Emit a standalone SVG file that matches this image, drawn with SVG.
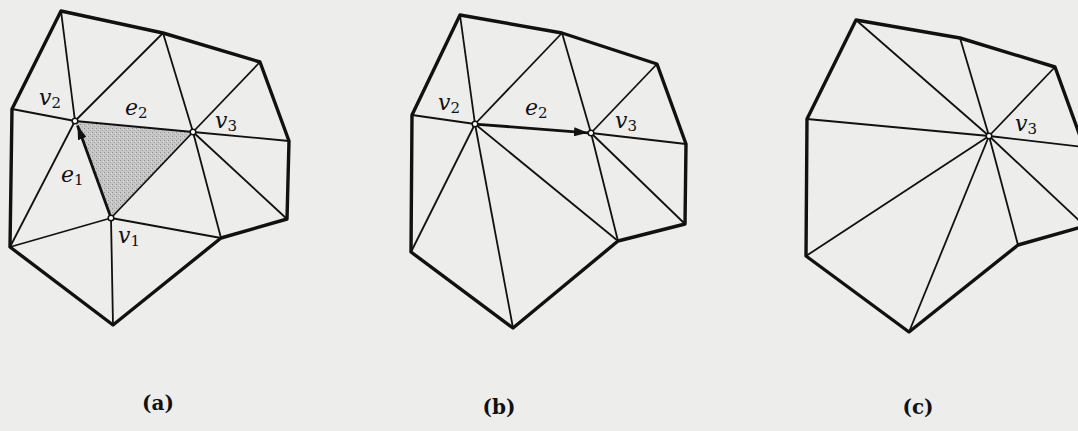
<svg xmlns="http://www.w3.org/2000/svg" width="1078" height="431" viewBox="0 0 1078 431">
<style>
.bg{fill:#ededeb}
.outer{fill:none;stroke:#111;stroke-width:3.4;stroke-linejoin:round}
.inner{stroke:#111;stroke-width:1.8;fill:none}
.arr{stroke:#111;stroke-width:2.8;fill:none}
.vx{fill:#fff;stroke:#111;stroke-width:1.5}
.lbl{font-family:"DejaVu Serif",serif;font-style:italic;font-size:22px;fill:#111}
.sub{font-style:normal;font-size:15px}
.cap{font-family:"DejaVu Serif",serif;font-weight:bold;font-size:20px;fill:#111}
</style>
<defs>
<pattern id="stip" width="4" height="4" patternUnits="userSpaceOnUse">
<rect width="4" height="4" fill="#c6c6c6"/>
<rect x="0" y="0" width="1" height="1" fill="#8f8f8f"/>
<rect x="2" y="2" width="1" height="1" fill="#a0a0a0"/>
<rect x="3" y="1" width="1" height="1" fill="#d8d8d8"/>
</pattern>
<marker id="ah" viewBox="0 0 14 9" refX="14" refY="4.5" markerWidth="14" markerHeight="9" markerUnits="userSpaceOnUse" orient="auto">
<path d="M0,0 L14,4.5 L0,9 Z" fill="#111"/>
</marker>
</defs>
<rect class="bg" width="1078" height="431"/>

<!-- Panel (a) -->
<g id="panel-a">
<polygon id="face-a" points="75,121 193,132 111,218" fill="url(#stip)"/>
<g id="connectors-a">
<line class="inner" x1="61" y1="11" x2="75" y2="121"/>
<line class="inner" x1="12" y1="109" x2="75" y2="121"/>
<line class="inner" x1="163" y1="33" x2="75" y2="121"/>
<line class="inner" x1="75" y1="121" x2="193" y2="132"/>
<line class="inner" x1="10" y1="247" x2="75" y2="121"/>
<line class="inner" x1="163" y1="33" x2="193" y2="132"/>
<line class="inner" x1="260" y1="62" x2="193" y2="132"/>
<line class="inner" x1="289" y1="141" x2="193" y2="132"/>
<line class="inner" x1="287" y1="219" x2="193" y2="132"/>
<line class="inner" x1="221" y1="238" x2="193" y2="132"/>
<line class="inner" x1="111" y1="218" x2="193" y2="132"/>
<line class="inner" x1="111" y1="218" x2="10" y2="247"/>
<line class="inner" x1="111" y1="218" x2="113" y2="325"/>
<line class="inner" x1="111" y1="218" x2="221" y2="238"/>
<line class="arr" x1="110" y1="215" x2="77.5" y2="125.5" marker-end="url(#ah)"/>
<polygon class="outer" points="61,11 163,33 260,62 289,141 287,219 221,238 113,325 10,247 12,109"/>
</g>
<g id="a-v2"><circle class="vx" cx="75" cy="121" r="2.8"/><text class="lbl" x="39" y="105">v<tspan class="sub" dy="3">2</tspan></text></g>
<g id="a-v3"><circle class="vx" cx="193" cy="132" r="2.8"/><text class="lbl" x="215" y="128">v<tspan class="sub" dy="3">3</tspan></text></g>
<g id="a-v1"><circle class="vx" cx="111" cy="218" r="2.8"/><text class="lbl" x="118" y="243">v<tspan class="sub" dy="3">1</tspan></text></g>
<g id="a-e2"><text class="lbl" x="125" y="115">e<tspan class="sub" dy="3">2</tspan></text></g>
<g id="a-e1"><text class="lbl" x="61" y="182">e<tspan class="sub" dy="3">1</tspan></text></g>
<text class="cap" x="158" y="410" text-anchor="middle">(a)</text>
</g>

<!-- Panel (b) -->
<g id="panel-b">
<g id="connectors-b">
<line class="inner" x1="460" y1="15" x2="475" y2="124"/>
<line class="inner" x1="412" y1="115" x2="475" y2="124"/>
<line class="inner" x1="562" y1="33" x2="475" y2="124"/>
<line class="inner" x1="411" y1="252" x2="475" y2="124"/>
<line class="inner" x1="513" y1="328" x2="475" y2="124"/>
<line class="inner" x1="618" y1="241" x2="475" y2="124"/>
<line class="inner" x1="562" y1="33" x2="591" y2="133"/>
<line class="inner" x1="657" y1="64" x2="591" y2="133"/>
<line class="inner" x1="686" y1="144" x2="591" y2="133"/>
<line class="inner" x1="685" y1="224" x2="591" y2="133"/>
<line class="inner" x1="618" y1="241" x2="591" y2="133"/>
<line class="arr" x1="478" y1="124.3" x2="588" y2="132.8" marker-end="url(#ah)"/>
<polygon class="outer" points="460,15 562,33 657,64 686,144 685,224 618,241 513,328 411,252 412,115"/>
</g>
<g id="b-v2"><circle class="vx" cx="475" cy="124" r="2.8"/><text class="lbl" x="438" y="110">v<tspan class="sub" dy="3">2</tspan></text></g>
<g id="b-v3"><circle class="vx" cx="591" cy="133" r="2.8"/><text class="lbl" x="615" y="128">v<tspan class="sub" dy="3">3</tspan></text></g>
<g id="b-e2"><text class="lbl" x="525" y="115">e<tspan class="sub" dy="3">2</tspan></text></g>
<text class="cap" x="499" y="414" text-anchor="middle">(b)</text>
</g>

<!-- Panel (c) -->
<g id="panel-c">
<g id="connectors-c">
<line class="inner" x1="856" y1="20" x2="989" y2="136"/>
<line class="inner" x1="960" y1="38" x2="989" y2="136"/>
<line class="inner" x1="1055" y1="67" x2="989" y2="136"/>
<line class="inner" x1="1084" y1="147" x2="989" y2="136"/>
<line class="inner" x1="1085" y1="226" x2="989" y2="136"/>
<line class="inner" x1="1018" y1="245" x2="989" y2="136"/>
<line class="inner" x1="909" y1="332" x2="989" y2="136"/>
<line class="inner" x1="806" y1="256" x2="989" y2="136"/>
<line class="inner" x1="807" y1="119" x2="989" y2="136"/>
<polygon class="outer" points="856,20 960,38 1055,67 1084,147 1085,226 1018,245 909,332 806,256 807,119"/>
</g>
<g id="c-v3"><circle class="vx" cx="989" cy="136" r="2.8"/><text class="lbl" x="1015" y="131">v<tspan class="sub" dy="3">3</tspan></text></g>
<text class="cap" x="918" y="414" text-anchor="middle">(c)</text>
</g>
</svg>
